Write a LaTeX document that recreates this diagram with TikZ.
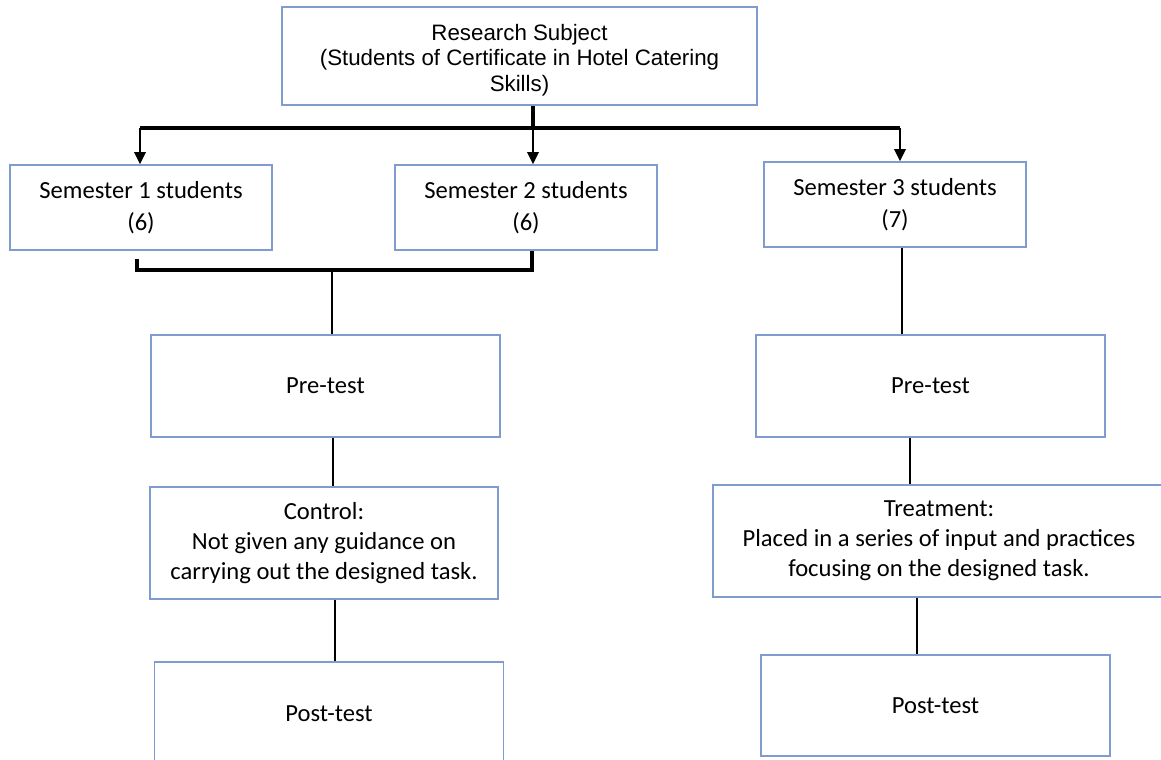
\documentclass[tikz,border=0pt]{standalone}
\usepackage{fontspec}
\setmainfont{Carlito}
\newfontfamily\arialfont{Liberation Sans}
\usepackage{tikz}
\usetikzlibrary{arrows.meta}
\definecolor{boxblue}{HTML}{7F9BD0}

\begin{document}
\begin{tikzpicture}[x=0.02cm,y=-0.02cm,>={Triangle[length=7pt,width=6.5pt]},
  box/.style={draw=boxblue,line width=0.8pt,inner sep=0pt,align=center,
    font=\fontsize{14}{17}\selectfont},
  bus/.style={line width=2pt},
  link/.style={line width=1.4pt}]
\useasboundingbox (0,0) rectangle (1161,760);
% Subjects and the three semester groups
\node[box,minimum width=9.5cm,minimum height=1.96cm,font=\arialfont\fontsize{12.7}{14.7}\selectfont]
  (subject) at (519.5,56) {\strut\\[-11pt]Research Subject\\(Students of Certificate in Hotel Catering\\Skills)};
\node[box,minimum width=5.24cm,minimum height=1.7cm] (sem1) at (141,207.5) {Semester 1 students\\[1pt](6)};
\node[box,minimum width=5.24cm,minimum height=1.7cm] (sem2) at (526,207.5) {Semester 2 students\\[1pt](6)};
\node[box,minimum width=5.24cm,minimum height=1.7cm] (sem3) at (895,204.5) {Semester 3 students\\[1pt](7)};
% Control branch
\node[box,minimum width=6.98cm,minimum height=2.04cm] (preL) at (325.5,386) {Pre-test};
\node[box,minimum width=6.96cm,minimum height=2.24cm] (control) at (324,543)
  {Control:\\Not given any guidance on\\carrying out the designed task.};
\node[box,minimum width=6.98cm,minimum height=2.08cm] (postL) at (329,714) {Post-test};
% Treatment branch
\node[box,minimum width=6.98cm,minimum height=2.04cm] (preR) at (930.5,386) {Pre-test};
\node[box,minimum width=9.04cm,minimum height=2.24cm] (treat) at (939,541)
  {Treatment:\\Placed in a series of input and practices\\focusing on the designed task.};
\node[box,minimum width=6.98cm,minimum height=2.02cm] (postR) at (935.5,705.5) {Post-test};

\coordinate (busL) at (140,128);
\coordinate (busM) at (533,128);
\coordinate (busR) at (900,128);
\draw[bus] (busM |- subject.south) -- (busM);
\draw[bus] (busL) -- (busR);
\draw[link,->] (busL) -- (busL |- sem1.north);
\draw[link,->] (busM) -- (busM |- sem2.north);
\draw[link,->] (busR) -- (busR |- sem3.north);

\coordinate (joinL) at (137,270);
\coordinate (joinR) at (532,270);
\coordinate (joinM) at (332,270);
\draw[bus] ([yshift=-5pt]joinL |- sem1.south) -- (joinL) -- (joinR) -- (joinR |- sem2.south);
\draw[link] (joinM) -- (joinM |- preL.north);
\coordinate (colL) at (333,0);
\coordinate (colL2) at (335,0);
\draw[link] (colL |- preL.south) -- (colL |- control.north);
\draw[link] (colL2 |- control.south) -- (colL2 |- postL.north);

\coordinate (colR) at (902,0);
\coordinate (colR2) at (910,0);
\coordinate (colR3) at (917,0);
\draw[link] (colR |- sem3.south) -- (colR |- preR.north);
\draw[link] (colR2 |- preR.south) -- (colR2 |- treat.north);
\draw[link] (colR3 |- treat.south) -- (colR3 |- postR.north);
\end{tikzpicture}
\end{document}
